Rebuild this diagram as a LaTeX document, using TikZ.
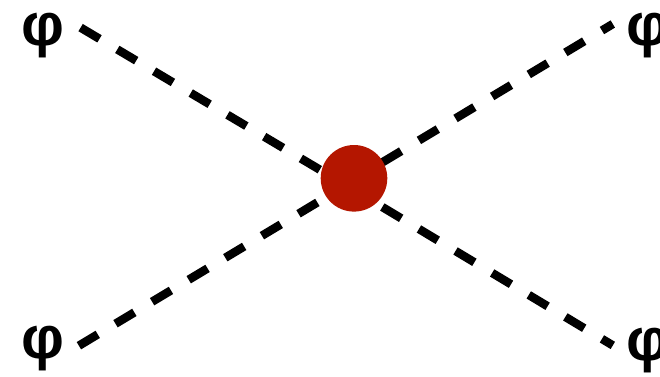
\documentclass[tikz,border=0pt]{standalone}
\usepackage{fontspec}
\setmainfont{Liberation Sans}
\definecolor{vtxred}{RGB}{180,22,0}
\begin{document}
\begin{tikzpicture}[x=1pt,y=-1pt,
  scalar/.style={line width=8.5pt,dash pattern=on 22pt off 20.7pt,black},
  lab/.style={font=\fontsize{60}{70}\bfseries\selectfont,inner sep=0pt},
  vtx/.style={circle,fill=vtxred,minimum size=66.6pt,inner sep=0pt}]
\useasboundingbox (0,0) rectangle (660,376);
% line end points
\coordinate (a1) at (80.6,27.6);
\coordinate (a2) at (354,190);
\coordinate (b1) at (78.9,345.7);
\coordinate (b2) at (354,180.4);
\coordinate (c1) at (382.3,162.4);
\coordinate (c2) at (612.8,24);
\coordinate (d1) at (382.3,207);
\coordinate (d2) at (612.8,345.4);
\draw[scalar] (a1) -- (a2);
\draw[scalar] (b1) -- (b2);
\draw[scalar] (c1) -- (c2);
\draw[scalar] (d1) -- (d2);
\node[vtx] (v) at (354,178.3) {};
\node[lab] (pa) at (42.5,35.5) {φ};
\node[lab] (pb) at (42.5,348.5) {φ};
\node[lab] (pc) at (648,35.5) {φ};
\node[lab] (pd) at (648,350.5) {φ};
\end{tikzpicture}
\end{document}
